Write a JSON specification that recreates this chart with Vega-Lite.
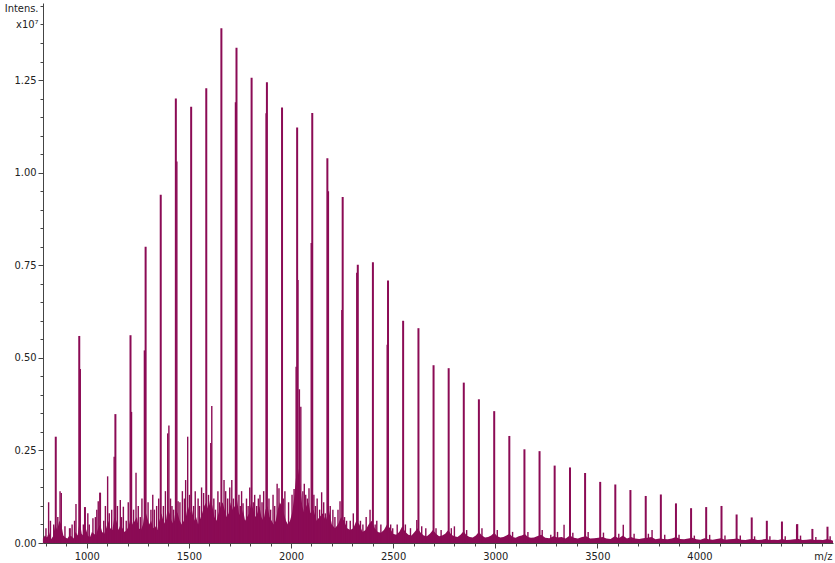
{
  "$schema": "https://vega.github.io/schema/vega-lite/v6.json",
  "width": 790,
  "height": 540,
  "autosize": {"type": "none"},
  "padding": {"left": 43, "top": 3, "right": 2, "bottom": 20},
  "background": "white",
  "config": {
    "view": {"stroke": null},
    "font": "DejaVu Sans Condensed",
    "axis": {
      "domainColor": "#444444",
      "tickColor": "#444444",
      "labelColor": "#222222",
      "titleColor": "#222222",
      "labelFontSize": 11,
      "titleFontSize": 11,
      "titleFontWeight": "normal",
      "grid": false,
      "labelOverlap": false,
      "labelFlush": false,
      "labelBound": false
    }
  },
  "datasets": {
    "noise": [
      {"m": 785, "i": 0.012}, {"m": 795, "i": 0.02}, {"m": 805, "i": 0.015}, {"m": 815, "i": 0.03}, {"m": 825, "i": 0.01},
      {"m": 835, "i": 0.018}, {"m": 845, "i": 0.05}, {"m": 855, "i": 0.035}, {"m": 865, "i": 0.06}, {"m": 875, "i": 0.05},
      {"m": 885, "i": 0.02}, {"m": 895, "i": 0.015}, {"m": 905, "i": 0.012}, {"m": 915, "i": 0.02}, {"m": 925, "i": 0.018},
      {"m": 935, "i": 0.012}, {"m": 945, "i": 0.03}, {"m": 955, "i": 0.02}, {"m": 965, "i": 0.06}, {"m": 975, "i": 0.025},
      {"m": 985, "i": 0.018}, {"m": 995, "i": 0.04}, {"m": 1005, "i": 0.02}, {"m": 1015, "i": 0.015}, {"m": 1025, "i": 0.03},
      {"m": 1035, "i": 0.025}, {"m": 1045, "i": 0.02}, {"m": 1055, "i": 0.04}, {"m": 1065, "i": 0.05}, {"m": 1075, "i": 0.03},
      {"m": 1085, "i": 0.025}, {"m": 1095, "i": 0.04}, {"m": 1105, "i": 0.06}, {"m": 1115, "i": 0.04}, {"m": 1125, "i": 0.035},
      {"m": 1135, "i": 0.07}, {"m": 1145, "i": 0.06}, {"m": 1155, "i": 0.035}, {"m": 1165, "i": 0.05}, {"m": 1175, "i": 0.04},
      {"m": 1185, "i": 0.03}, {"m": 1195, "i": 0.035}, {"m": 1205, "i": 0.045}, {"m": 1215, "i": 0.07}, {"m": 1225, "i": 0.05},
      {"m": 1235, "i": 0.06}, {"m": 1245, "i": 0.07}, {"m": 1255, "i": 0.04}, {"m": 1265, "i": 0.035}, {"m": 1275, "i": 0.05},
      {"m": 1285, "i": 0.09}, {"m": 1295, "i": 0.07}, {"m": 1305, "i": 0.05}, {"m": 1315, "i": 0.06}, {"m": 1325, "i": 0.04},
      {"m": 1335, "i": 0.045}, {"m": 1345, "i": 0.035}, {"m": 1355, "i": 0.06}, {"m": 1365, "i": 0.08}, {"m": 1375, "i": 0.06},
      {"m": 1385, "i": 0.05}, {"m": 1395, "i": 0.09}, {"m": 1405, "i": 0.08}, {"m": 1415, "i": 0.06}, {"m": 1425, "i": 0.05},
      {"m": 1435, "i": 0.09}, {"m": 1445, "i": 0.08}, {"m": 1455, "i": 0.06}, {"m": 1465, "i": 0.05}, {"m": 1475, "i": 0.06},
      {"m": 1485, "i": 0.07}, {"m": 1495, "i": 0.1}, {"m": 1505, "i": 0.08}, {"m": 1515, "i": 0.09}, {"m": 1525, "i": 0.06},
      {"m": 1535, "i": 0.07}, {"m": 1545, "i": 0.05}, {"m": 1555, "i": 0.065}, {"m": 1565, "i": 0.08}, {"m": 1575, "i": 0.1},
      {"m": 1585, "i": 0.11}, {"m": 1595, "i": 0.09}, {"m": 1605, "i": 0.12}, {"m": 1615, "i": 0.1}, {"m": 1625, "i": 0.07},
      {"m": 1635, "i": 0.06}, {"m": 1645, "i": 0.08}, {"m": 1655, "i": 0.1}, {"m": 1665, "i": 0.11}, {"m": 1675, "i": 0.09},
      {"m": 1685, "i": 0.07}, {"m": 1695, "i": 0.08}, {"m": 1705, "i": 0.11}, {"m": 1715, "i": 0.09}, {"m": 1725, "i": 0.1},
      {"m": 1735, "i": 0.12}, {"m": 1745, "i": 0.08}, {"m": 1755, "i": 0.07}, {"m": 1765, "i": 0.09}, {"m": 1775, "i": 0.06},
      {"m": 1785, "i": 0.07}, {"m": 1795, "i": 0.08}, {"m": 1805, "i": 0.11}, {"m": 1815, "i": 0.09}, {"m": 1825, "i": 0.07},
      {"m": 1835, "i": 0.08}, {"m": 1845, "i": 0.1}, {"m": 1855, "i": 0.07}, {"m": 1865, "i": 0.06}, {"m": 1875, "i": 0.09},
      {"m": 1885, "i": 0.1}, {"m": 1895, "i": 0.07}, {"m": 1905, "i": 0.06}, {"m": 1915, "i": 0.05}, {"m": 1925, "i": 0.06},
      {"m": 1935, "i": 0.09}, {"m": 1945, "i": 0.11}, {"m": 1955, "i": 0.1}, {"m": 1965, "i": 0.08}, {"m": 1975, "i": 0.06},
      {"m": 1985, "i": 0.05}, {"m": 1995, "i": 0.06}, {"m": 2005, "i": 0.08}, {"m": 2015, "i": 0.12}, {"m": 2025, "i": 0.18},
      {"m": 2035, "i": 0.2}, {"m": 2045, "i": 0.16}, {"m": 2055, "i": 0.1}, {"m": 2065, "i": 0.08}, {"m": 2075, "i": 0.1},
      {"m": 2085, "i": 0.11}, {"m": 2095, "i": 0.08},
      {"m": 2110, "i": 0.09}, {"m": 2125, "i": 0.06}, {"m": 2140, "i": 0.07}, {"m": 2155, "i": 0.08}, {"m": 2170, "i": 0.06},
      {"m": 2185, "i": 0.09}, {"m": 2200, "i": 0.05}, {"m": 2215, "i": 0.04}, {"m": 2230, "i": 0.05}, {"m": 2245, "i": 0.07},
      {"m": 2260, "i": 0.06}, {"m": 2275, "i": 0.04}, {"m": 2290, "i": 0.035}, {"m": 2305, "i": 0.04}, {"m": 2320, "i": 0.06},
      {"m": 2335, "i": 0.05}, {"m": 2350, "i": 0.03}, {"m": 2365, "i": 0.035}, {"m": 2380, "i": 0.05}, {"m": 2395, "i": 0.06},
      {"m": 2410, "i": 0.04}, {"m": 2425, "i": 0.03}, {"m": 2440, "i": 0.028}, {"m": 2455, "i": 0.035}, {"m": 2470, "i": 0.05},
      {"m": 2485, "i": 0.04}, {"m": 2500, "i": 0.025}, {"m": 2515, "i": 0.022}, {"m": 2530, "i": 0.03}, {"m": 2545, "i": 0.045},
      {"m": 2560, "i": 0.03}, {"m": 2575, "i": 0.022}, {"m": 2590, "i": 0.02}, {"m": 2605, "i": 0.03}, {"m": 2620, "i": 0.04},
      {"m": 2635, "i": 0.028}, {"m": 2650, "i": 0.02}, {"m": 2665, "i": 0.018}, {"m": 2680, "i": 0.025}, {"m": 2695, "i": 0.035},
      {"m": 2710, "i": 0.025}, {"m": 2725, "i": 0.018}, {"m": 2740, "i": 0.02}, {"m": 2755, "i": 0.025}, {"m": 2770, "i": 0.035},
      {"m": 2785, "i": 0.022}, {"m": 2800, "i": 0.018}, {"m": 2815, "i": 0.016}, {"m": 2830, "i": 0.022}, {"m": 2845, "i": 0.032},
      {"m": 2860, "i": 0.02}, {"m": 2875, "i": 0.016}, {"m": 2890, "i": 0.015}, {"m": 2905, "i": 0.02}, {"m": 2920, "i": 0.03},
      {"m": 2935, "i": 0.02}, {"m": 2950, "i": 0.015}, {"m": 2965, "i": 0.016}, {"m": 2980, "i": 0.02}, {"m": 2995, "i": 0.028},
      {"m": 3010, "i": 0.018}, {"m": 3025, "i": 0.015}, {"m": 3040, "i": 0.016}, {"m": 3055, "i": 0.02}, {"m": 3070, "i": 0.025},
      {"m": 3085, "i": 0.016}, {"m": 3100, "i": 0.014}, {"m": 3115, "i": 0.018}, {"m": 3130, "i": 0.02}, {"m": 3145, "i": 0.024},
      {"m": 3160, "i": 0.016}, {"m": 3175, "i": 0.014}, {"m": 3190, "i": 0.015},
      {"m": 3205, "i": 0.018}, {"m": 3225, "i": 0.022}, {"m": 3245, "i": 0.014}, {"m": 3265, "i": 0.013}, {"m": 3285, "i": 0.018},
      {"m": 3305, "i": 0.015}, {"m": 3325, "i": 0.016}, {"m": 3345, "i": 0.012}, {"m": 3365, "i": 0.02}, {"m": 3385, "i": 0.014},
      {"m": 3405, "i": 0.012}, {"m": 3425, "i": 0.016}, {"m": 3445, "i": 0.018}, {"m": 3465, "i": 0.012}, {"m": 3485, "i": 0.013},
      {"m": 3505, "i": 0.014}, {"m": 3525, "i": 0.016}, {"m": 3545, "i": 0.012}, {"m": 3565, "i": 0.011}, {"m": 3585, "i": 0.018},
      {"m": 3605, "i": 0.013}, {"m": 3625, "i": 0.02}, {"m": 3645, "i": 0.012}, {"m": 3665, "i": 0.016}, {"m": 3685, "i": 0.012},
      {"m": 3705, "i": 0.011}, {"m": 3725, "i": 0.013}, {"m": 3745, "i": 0.014}, {"m": 3765, "i": 0.016}, {"m": 3785, "i": 0.01},
      {"m": 3805, "i": 0.012}, {"m": 3825, "i": 0.011}, {"m": 3845, "i": 0.01}, {"m": 3865, "i": 0.012}, {"m": 3885, "i": 0.016},
      {"m": 3905, "i": 0.011}, {"m": 3925, "i": 0.01}, {"m": 3945, "i": 0.012}, {"m": 3965, "i": 0.014}, {"m": 3985, "i": 0.01},
      {"m": 4005, "i": 0.009}, {"m": 4025, "i": 0.013}, {"m": 4045, "i": 0.01}, {"m": 4065, "i": 0.009}, {"m": 4085, "i": 0.011},
      {"m": 4105, "i": 0.013}, {"m": 4125, "i": 0.009}, {"m": 4145, "i": 0.01}, {"m": 4165, "i": 0.011}, {"m": 4185, "i": 0.012},
      {"m": 4205, "i": 0.009}, {"m": 4225, "i": 0.008}, {"m": 4245, "i": 0.01}, {"m": 4265, "i": 0.011}, {"m": 4285, "i": 0.008},
      {"m": 4305, "i": 0.009}, {"m": 4325, "i": 0.011}, {"m": 4345, "i": 0.008}, {"m": 4365, "i": 0.009}, {"m": 4385, "i": 0.008},
      {"m": 4405, "i": 0.011}, {"m": 4425, "i": 0.008}, {"m": 4445, "i": 0.009}, {"m": 4465, "i": 0.01}, {"m": 4485, "i": 0.011},
      {"m": 4505, "i": 0.008}, {"m": 4525, "i": 0.009}, {"m": 4545, "i": 0.01}, {"m": 4565, "i": 0.008}, {"m": 4585, "i": 0.009},
      {"m": 4605, "i": 0.008}, {"m": 4625, "i": 0.011}, {"m": 4645, "i": 0.008}, {"m": 4654, "i": 0.006}
    ],
    "peaks": [
      {"m": 848, "i": 0.287, "t": "main"}, {"m": 917, "i": 0.04, "t": "main"}, {"m": 991, "i": 0.097, "t": "main"},
      {"m": 1065, "i": 0.136, "t": "main"}, {"m": 1140, "i": 0.348, "t": "main"}, {"m": 1214, "i": 0.561, "t": "main"},
      {"m": 1288, "i": 0.8, "t": "main"}, {"m": 1362, "i": 0.94, "t": "main"}, {"m": 1436, "i": 1.2, "t": "main"},
      {"m": 1511, "i": 1.178, "t": "main"}, {"m": 1585, "i": 1.228, "t": "main"}, {"m": 1659, "i": 1.39, "t": "main"},
      {"m": 1733, "i": 1.337, "t": "main"}, {"m": 1807, "i": 1.256, "t": "main"}, {"m": 1882, "i": 1.244, "t": "main"},
      {"m": 1956, "i": 1.176, "t": "main"}, {"m": 2030, "i": 1.122, "t": "main"}, {"m": 2104, "i": 1.161, "t": "main"},
      {"m": 2178, "i": 1.039, "t": "main"}, {"m": 2253, "i": 0.934, "t": "main"}, {"m": 2327, "i": 0.751, "t": "main"},
      {"m": 2401, "i": 0.758, "t": "main"}, {"m": 2475, "i": 0.709, "t": "main"}, {"m": 2549, "i": 0.6, "t": "main"},
      {"m": 2624, "i": 0.58, "t": "main"}, {"m": 2698, "i": 0.48, "t": "main"}, {"m": 2772, "i": 0.472, "t": "main"},
      {"m": 2846, "i": 0.433, "t": "main"}, {"m": 2920, "i": 0.388, "t": "main"}, {"m": 2995, "i": 0.356, "t": "main"},
      {"m": 3069, "i": 0.289, "t": "main"}, {"m": 3143, "i": 0.253, "t": "main"}, {"m": 3217, "i": 0.248, "t": "main"},
      {"m": 3291, "i": 0.209, "t": "main"}, {"m": 3366, "i": 0.204, "t": "main"}, {"m": 3440, "i": 0.189, "t": "main"},
      {"m": 3514, "i": 0.165, "t": "main"}, {"m": 3588, "i": 0.158, "t": "main"}, {"m": 3662, "i": 0.143, "t": "main"},
      {"m": 3737, "i": 0.127, "t": "main"}, {"m": 3811, "i": 0.131, "t": "main"}, {"m": 3885, "i": 0.107, "t": "main"},
      {"m": 3959, "i": 0.094, "t": "main"}, {"m": 4033, "i": 0.097, "t": "main"}, {"m": 4108, "i": 0.1, "t": "main"},
      {"m": 4182, "i": 0.077, "t": "main"}, {"m": 4256, "i": 0.069, "t": "main"}, {"m": 4330, "i": 0.06, "t": "main"},
      {"m": 4404, "i": 0.058, "t": "main"}, {"m": 4479, "i": 0.051, "t": "main"}, {"m": 4553, "i": 0.038, "t": "main"},
      {"m": 4627, "i": 0.044, "t": "main"},
      {"m": 813, "i": 0.11, "t": "minor"}, {"m": 869, "i": 0.14, "t": "minor"}, {"m": 875, "i": 0.135, "t": "minor"},
      {"m": 947, "i": 0.105, "t": "minor"}, {"m": 963, "i": 0.559, "t": "main"}, {"m": 968, "i": 0.47, "t": "minor"},
      {"m": 1030, "i": 0.067, "t": "minor"}, {"m": 1056, "i": 0.113, "t": "minor"}, {"m": 1102, "i": 0.18, "t": "minor"},
      {"m": 1122, "i": 0.09, "t": "minor"}, {"m": 1134, "i": 0.233, "t": "minor"}, {"m": 1164, "i": 0.116, "t": "minor"},
      {"m": 1179, "i": 0.098, "t": "minor"}, {"m": 1219, "i": 0.354, "t": "minor"}, {"m": 1241, "i": 0.19, "t": "minor"},
      {"m": 1282, "i": 0.52, "t": "minor"}, {"m": 1314, "i": 0.09, "t": "minor"}, {"m": 1396, "i": 0.296, "t": "minor"},
      {"m": 1402, "i": 0.317, "t": "minor"}, {"m": 1417, "i": 0.1, "t": "minor"}, {"m": 1441, "i": 1.03, "t": "minor"},
      {"m": 1447, "i": 0.113, "t": "minor"}, {"m": 1494, "i": 0.287, "t": "minor"}, {"m": 1572, "i": 0.135, "t": "minor"},
      {"m": 1607, "i": 0.27, "t": "minor"}, {"m": 1612, "i": 0.37, "t": "minor"}, {"m": 1672, "i": 0.17, "t": "minor"},
      {"m": 1710, "i": 0.17, "t": "minor"}, {"m": 1728, "i": 1.19, "t": "minor"}, {"m": 1765, "i": 0.107, "t": "minor"},
      {"m": 1840, "i": 0.12, "t": "minor"}, {"m": 1848, "i": 0.13, "t": "minor"}, {"m": 1878, "i": 1.16, "t": "minor"},
      {"m": 1941, "i": 0.148, "t": "minor"}, {"m": 2015, "i": 0.146, "t": "minor"}, {"m": 2025, "i": 0.476, "t": "minor"},
      {"m": 2034, "i": 0.71, "t": "minor"}, {"m": 2041, "i": 0.415, "t": "minor"}, {"m": 2048, "i": 0.368, "t": "minor"},
      {"m": 2072, "i": 0.13, "t": "minor"}, {"m": 2088, "i": 0.148, "t": "minor"}, {"m": 2099, "i": 0.81, "t": "minor"},
      {"m": 2150, "i": 0.137, "t": "minor"}, {"m": 2183, "i": 0.95, "t": "minor"}, {"m": 2240, "i": 0.113, "t": "minor"},
      {"m": 2249, "i": 0.629, "t": "minor"}, {"m": 2322, "i": 0.73, "t": "minor"}, {"m": 2387, "i": 0.09, "t": "minor"},
      {"m": 2471, "i": 0.535, "t": "minor"}, {"m": 2616, "i": 0.062, "t": "minor"}, {"m": 3272, "i": 0.022, "t": "minor"},
      {"m": 3337, "i": 0.049, "t": "minor"}, {"m": 3627, "i": 0.049, "t": "minor"}, {"m": 3768, "i": 0.035, "t": "minor"},
      {"m": 4476, "i": 0.05, "t": "minor"},
      {"m": 800, "i": 0.04, "t": "minor"}, {"m": 822, "i": 0.06, "t": "minor"}, {"m": 838, "i": 0.05, "t": "minor"},
      {"m": 858, "i": 0.07, "t": "minor"}, {"m": 893, "i": 0.045, "t": "minor"}, {"m": 928, "i": 0.05, "t": "minor"},
      {"m": 940, "i": 0.06, "t": "minor"}, {"m": 983, "i": 0.05, "t": "minor"}, {"m": 1005, "i": 0.08, "t": "minor"},
      {"m": 1012, "i": 0.05, "t": "minor"}, {"m": 1042, "i": 0.07, "t": "minor"}, {"m": 1049, "i": 0.09, "t": "minor"},
      {"m": 1083, "i": 0.06, "t": "minor"}, {"m": 1091, "i": 0.1, "t": "minor"}, {"m": 1110, "i": 0.08, "t": "minor"},
      {"m": 1150, "i": 0.1, "t": "minor"}, {"m": 1170, "i": 0.07, "t": "minor"}, {"m": 1193, "i": 0.06, "t": "minor"},
      {"m": 1203, "i": 0.11, "t": "minor"}, {"m": 1229, "i": 0.09, "t": "minor"}, {"m": 1252, "i": 0.1, "t": "minor"},
      {"m": 1262, "i": 0.07, "t": "minor"}, {"m": 1270, "i": 0.12, "t": "minor"}, {"m": 1300, "i": 0.11, "t": "minor"},
      {"m": 1323, "i": 0.13, "t": "minor"}, {"m": 1331, "i": 0.09, "t": "minor"}, {"m": 1342, "i": 0.1, "t": "minor"},
      {"m": 1352, "i": 0.12, "t": "minor"}, {"m": 1375, "i": 0.1, "t": "minor"}, {"m": 1385, "i": 0.14, "t": "minor"},
      {"m": 1410, "i": 0.12, "t": "minor"}, {"m": 1425, "i": 0.09, "t": "minor"}, {"m": 1456, "i": 0.11, "t": "minor"},
      {"m": 1468, "i": 0.14, "t": "minor"}, {"m": 1478, "i": 0.12, "t": "minor"}, {"m": 1484, "i": 0.17, "t": "minor"},
      {"m": 1503, "i": 0.13, "t": "minor"}, {"m": 1523, "i": 0.1, "t": "minor"}, {"m": 1531, "i": 0.14, "t": "minor"},
      {"m": 1545, "i": 0.12, "t": "minor"}, {"m": 1552, "i": 0.1, "t": "minor"}, {"m": 1562, "i": 0.15, "t": "minor"},
      {"m": 1596, "i": 0.13, "t": "minor"}, {"m": 1622, "i": 0.12, "t": "minor"}, {"m": 1630, "i": 0.09, "t": "minor"},
      {"m": 1642, "i": 0.14, "t": "minor"}, {"m": 1650, "i": 0.11, "t": "minor"}, {"m": 1680, "i": 0.14, "t": "minor"},
      {"m": 1690, "i": 0.12, "t": "minor"}, {"m": 1700, "i": 0.15, "t": "minor"}, {"m": 1718, "i": 0.12, "t": "minor"},
      {"m": 1745, "i": 0.13, "t": "minor"}, {"m": 1752, "i": 0.1, "t": "minor"}, {"m": 1758, "i": 0.14, "t": "minor"},
      {"m": 1782, "i": 0.12, "t": "minor"}, {"m": 1790, "i": 0.1, "t": "minor"}, {"m": 1798, "i": 0.15, "t": "minor"},
      {"m": 1815, "i": 0.11, "t": "minor"}, {"m": 1822, "i": 0.13, "t": "minor"}, {"m": 1832, "i": 0.1, "t": "minor"},
      {"m": 1858, "i": 0.11, "t": "minor"}, {"m": 1866, "i": 0.14, "t": "minor"}, {"m": 1892, "i": 0.12, "t": "minor"},
      {"m": 1900, "i": 0.09, "t": "minor"}, {"m": 1912, "i": 0.13, "t": "minor"}, {"m": 1920, "i": 0.1, "t": "minor"},
      {"m": 1932, "i": 0.16, "t": "minor"}, {"m": 1962, "i": 0.12, "t": "minor"}, {"m": 1970, "i": 0.14, "t": "minor"},
      {"m": 1988, "i": 0.11, "t": "minor"}, {"m": 2005, "i": 0.13, "t": "minor"}, {"m": 2058, "i": 0.14, "t": "minor"},
      {"m": 2065, "i": 0.16, "t": "minor"}, {"m": 2080, "i": 0.12, "t": "minor"}, {"m": 2112, "i": 0.13, "t": "minor"},
      {"m": 2120, "i": 0.1, "t": "minor"}, {"m": 2128, "i": 0.12, "t": "minor"}, {"m": 2140, "i": 0.09, "t": "minor"},
      {"m": 2160, "i": 0.11, "t": "minor"}, {"m": 2168, "i": 0.08, "t": "minor"}, {"m": 2192, "i": 0.1, "t": "minor"},
      {"m": 2205, "i": 0.09, "t": "minor"}, {"m": 2215, "i": 0.07, "t": "minor"}, {"m": 2230, "i": 0.09, "t": "minor"},
      {"m": 2262, "i": 0.07, "t": "minor"}, {"m": 2272, "i": 0.06, "t": "minor"}, {"m": 2290, "i": 0.06, "t": "minor"},
      {"m": 2305, "i": 0.08, "t": "minor"}, {"m": 2340, "i": 0.06, "t": "minor"}, {"m": 2352, "i": 0.05, "t": "minor"},
      {"m": 2368, "i": 0.07, "t": "minor"}, {"m": 2412, "i": 0.05, "t": "minor"}, {"m": 2420, "i": 0.06, "t": "minor"},
      {"m": 2440, "i": 0.05, "t": "minor"}, {"m": 2488, "i": 0.05, "t": "minor"}, {"m": 2498, "i": 0.04, "t": "minor"},
      {"m": 2520, "i": 0.05, "t": "minor"}, {"m": 2560, "i": 0.05, "t": "minor"}, {"m": 2585, "i": 0.04, "t": "minor"},
      {"m": 2640, "i": 0.045, "t": "minor"}, {"m": 2660, "i": 0.04, "t": "minor"}, {"m": 2710, "i": 0.04, "t": "minor"},
      {"m": 2735, "i": 0.035, "t": "minor"}, {"m": 2785, "i": 0.04, "t": "minor"}, {"m": 2800, "i": 0.045, "t": "minor"},
      {"m": 2860, "i": 0.035, "t": "minor"}, {"m": 2935, "i": 0.04, "t": "minor"}, {"m": 3010, "i": 0.035, "t": "minor"},
      {"m": 3085, "i": 0.03, "t": "minor"}, {"m": 3160, "i": 0.03, "t": "minor"}, {"m": 3230, "i": 0.035, "t": "minor"},
      {"m": 3305, "i": 0.03, "t": "minor"}, {"m": 3380, "i": 0.028, "t": "minor"}, {"m": 3455, "i": 0.03, "t": "minor"},
      {"m": 3530, "i": 0.028, "t": "minor"}, {"m": 3605, "i": 0.025, "t": "minor"}, {"m": 3680, "i": 0.025, "t": "minor"},
      {"m": 3750, "i": 0.025, "t": "minor"}, {"m": 3830, "i": 0.022, "t": "minor"}, {"m": 3900, "i": 0.022, "t": "minor"},
      {"m": 3975, "i": 0.02, "t": "minor"}, {"m": 4050, "i": 0.022, "t": "minor"}, {"m": 4125, "i": 0.02, "t": "minor"},
      {"m": 4200, "i": 0.02, "t": "minor"}, {"m": 4270, "i": 0.018, "t": "minor"}, {"m": 4345, "i": 0.018, "t": "minor"},
      {"m": 4420, "i": 0.018, "t": "minor"}, {"m": 4495, "i": 0.02, "t": "minor"}, {"m": 4570, "i": 0.016, "t": "minor"},
      {"m": 4640, "i": 0.018, "t": "minor"}
    ]
  },
  "encoding": {
    "x": {
      "field": "m",
      "type": "quantitative",
      "scale": {"domain": [785.5, 4654], "nice": false, "zero": false},
      "axis": {
        "values": [800, 900, 1000, 1100, 1200, 1300, 1400, 1500, 1600, 1700, 1800, 1900, 2000, 2100, 2200, 2300, 2400, 2500, 2600, 2700, 2800, 2900, 3000, 3100, 3200, 3300, 3400, 3500, 3600, 3700, 3800, 3900, 4000, 4100, 4200, 4300, 4400, 4500, 4600],
        "format": "d",
        "labelExpr": "(datum.value % 500 == 0 && datum.value <= 4000) ? datum.label : ''",
        "tickSize": {"condition": {"test": "datum.value % 500 == 0 && datum.value <= 4000", "value": 5}, "value": 3},
        "labelPadding": 2,
        "title": "m/z",
        "titleAnchor": null,
        "titleX": 789,
        "titleY": 7,
        "titleAlign": "right",
        "titleBaseline": "top"
      }
    },
    "y": {
      "field": "i",
      "type": "quantitative",
      "scale": {"domain": [0, 1.458], "nice": false},
      "axis": {
        "values": [0, 0.05, 0.1, 0.15, 0.2, 0.25, 0.3, 0.35, 0.4, 0.45, 0.5, 0.55, 0.6, 0.65, 0.7, 0.75, 0.8, 0.85, 0.9, 0.95, 1, 1.05, 1.1, 1.15, 1.2, 1.25, 1.3, 1.35, 1.4, 1.45],
        "labelExpr": "(round(datum.value * 100) % 25 == 0) ? format(datum.value, '.2f') : ''",
        "tickSize": {"condition": {"test": "round(datum.value * 100) % 25 == 0", "value": 5}, "value": 3},
        "labelPadding": 2,
        "title": ["Intens.", "x10⁷"],
        "titleAngle": 0,
        "titleAlign": "right",
        "titleBaseline": "top",
        "titleX": -5,
        "titleY": -1,
        "titleLineHeight": 16
      }
    }
  },
  "layer": [
    {
      "data": {"name": "noise"},
      "mark": {"type": "area", "color": "#8b0b55", "interpolate": "linear"}
    },
    {
      "data": {"name": "peaks"},
      "transform": [{"filter": "datum.t == 'minor'"}],
      "mark": {"type": "rule", "color": "#8b0b55", "strokeWidth": 1.4},
      "encoding": {"y2": {"datum": 0}}
    },
    {
      "data": {"name": "peaks"},
      "transform": [{"filter": "datum.t == 'main'"}],
      "mark": {"type": "rule", "color": "#8b0b55", "strokeWidth": 2},
      "encoding": {"y2": {"datum": 0}}
    }
  ]
}
